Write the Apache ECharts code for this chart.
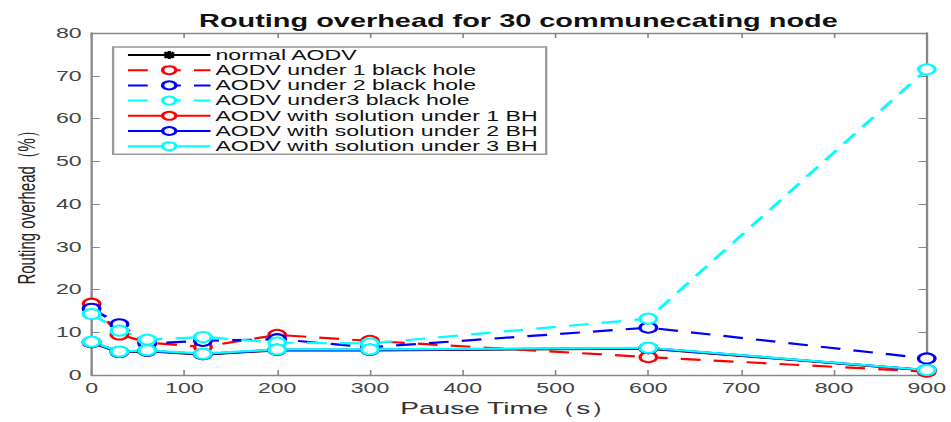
<!DOCTYPE html>
<html><head><meta charset="utf-8">
<script src="https://cdn.jsdelivr.net/npm/echarts@6/dist/echarts.min.js"></script>
<style>
html,body{margin:0;padding:0;background:#fff;overflow:hidden}
#wrap{width:951px;height:422px;overflow:hidden}
#c{width:576px;height:422px;transform:scaleX(1.651);transform-origin:0 0}
</style>
</head><body><div id="wrap"><div id="c"></div></div>
<script>
const pauseTimes = [0, 30, 60, 120, 200, 300, 600, 900];
const normalAODV   = [7.6, 5.3, 5.6, 4.8, 5.8, 5.8, 6.2, 1.1];
const bh1          = [16.7, 9.5, 7.6, 6.6, 9.4, 8.0, 4.2, 0.8];
const bh2          = [15.5, 11.9, 7.4, 8.0, 8.4, 6.5, 11.1, 3.9];
const bh3          = [14.3, 10.4, 8.3, 8.9, 7.6, 7.4, 13.2, 71.5];
const sol1         = [7.7, 5.4, 5.7, 4.9, 5.9, 5.9, 6.3, 1.1];
const sol2         = [7.7, 5.4, 5.7, 4.9, 5.9, 5.9, 6.3, 1.2];
const sol3         = [7.8, 5.5, 5.8, 5.0, 6.0, 6.0, 6.4, 1.2];
const names = ['normal AODV','AODV under 1 black hole','AODV under 2 black hole','AODV under3 black hole','AODV with solution under 1 BH','AODV with solution under 2 BH','AODV with solution under 3 BH'];
const xTicks = [0,100,200,300,400,500,600,700,800,900];
const yTicks = [0,10,20,30,40,50,60,70,80];

const pts = a => pauseTimes.map((x,i)=>[x,a[i]]);
const font = '"Liberation Sans", Arial, sans-serif';
function s(name, data, color, dashed, symbol){
  return {name, type:'line', data:pts(data), symbol: symbol||'emptyCircle', symbolSize: 10,
    lineStyle:{color, width:2.2, type: dashed?[12,8]:'solid'},
    itemStyle:{color, borderColor:color, borderWidth:2.2}, emphasis:{disabled:true}};
}
const chart = echarts.init(document.getElementById('c'), null, {renderer:'svg'});
const axisLine = {show:true, onZero:false, lineStyle:{color:'#888', width:1.4}};
const tick = {inside:true, length:5, lineStyle:{color:'#888', width:1}};
chart.setOption({
  animation:false,
  title:{text:'Routing overhead for 30 communecating node', left:309, top:7, textAlign:'center',
    textStyle:{fontFamily:font, fontWeight:'bold', fontSize:17.5, color:'#111'}},
  grid:{left:53.3, right:11.5, top:33, bottom:44},
  legend:{orient:'vertical', left:68.5, top:47, itemWidth:50, itemHeight:10, itemGap:1.2,
    padding:[1,5,1,8], borderColor:'#999', borderWidth:1.4, backgroundColor:'#fff',
    textStyle:{fontFamily:font, fontSize:14, color:'#111', padding:[0,0,0,-2]}, data:names},
  xAxis:[{type:'value', min:0, max:900, interval:100, position:'bottom',
    name:'Pause Time（s）', nameLocation:'middle', nameGap:24,
    nameTextStyle:{fontFamily:font, fontSize:17, color:'#333'},
    axisLine, axisTick:tick,
    axisLabel:{fontFamily:font, fontSize:14, color:'#444', margin:6}, splitLine:{show:false}},
   {type:'value', min:0, max:900, interval:100, position:'top', axisLine,
    axisTick:tick, axisLabel:{show:false}, splitLine:{show:false}}],
  yAxis:[{type:'value', min:0, max:80, interval:10, position:'left',
    name:'Routing overhead（%）', nameLocation:'middle', nameGap:32, nameRotate:90,
    nameTextStyle:{fontFamily:font, fontSize:15, color:'#222'},
    axisLine, axisTick:tick,
    axisLabel:{fontFamily:font, fontSize:14, color:'#444', margin:6}, splitLine:{show:false}},
   {type:'value', min:0, max:80, interval:10, position:'right', axisLine,
    axisTick:tick, axisLabel:{show:false}, splitLine:{show:false}}],
  series:[
    s(names[0], normalAODV, '#000', false, 'path://M0,-10L0,10M-10,0L10,0M-7,-7L7,7M-7,7L7,-7'),
    s(names[1], bh1, '#ff0000', true),
    s(names[2], bh2, '#0000ff', true),
    s(names[3], bh3, '#00ffff', true),
    s(names[4], sol1, '#ff0000', false),
    s(names[5], sol2, '#0000ff', false),
    s(names[6], sol3, '#00ffff', false)
  ]
});
</script></body></html>
